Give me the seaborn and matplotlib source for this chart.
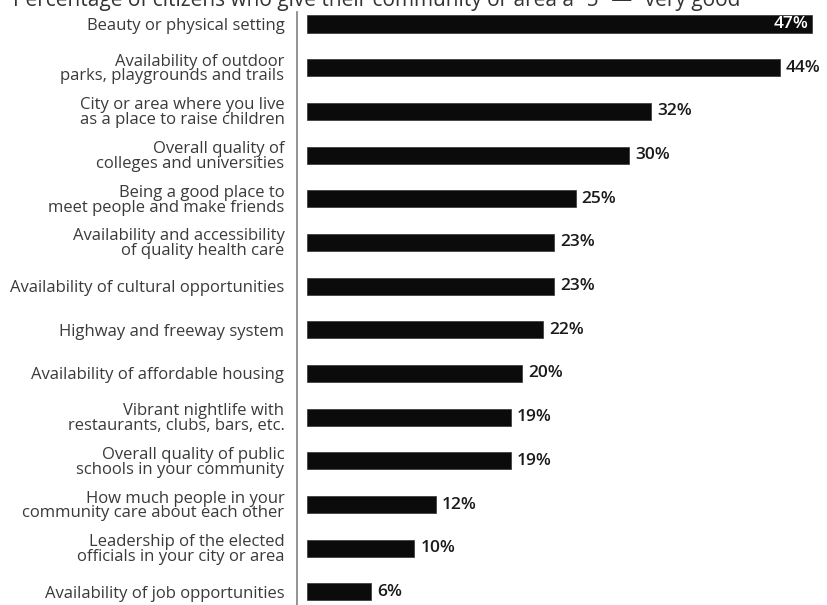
import matplotlib
matplotlib.use("Agg")
import matplotlib.pyplot as plt
import seaborn as sns
import pandas as pd

categories = [
    "Beauty or physical setting",
    "Availability of outdoor\nparks, playgrounds and trails",
    "City or area where you live\nas a place to raise children",
    "Overall quality of\ncolleges and universities",
    "Being a good place to\nmeet people and make friends",
    "Availability and accessibility\nof quality health care",
    "Availability of cultural opportunities",
    "Highway and freeway system",
    "Availability of affordable housing",
    "Vibrant nightlife with\nrestaurants, clubs, bars, etc.",
    "Overall quality of public\nschools in your community",
    "How much people in your\ncommunity care about each other",
    "Leadership of the elected\nofficials in your city or area",
    "Availability of job opportunities",
]
values = [47, 44, 32, 30, 25, 23, 23, 22, 20, 19, 19, 12, 10, 6]
title = "Percentage of citizens who give their community or area a \u201c5\u201d \u2014 \u201cvery good\u201d"

df = pd.DataFrame({"category": categories, "value": values})

sns.set_theme(style="white")
plt.rcParams["font.family"] = ["Open Sans", "DejaVu Sans"]

fig = plt.figure(figsize=(8.28, 6.05), dpi=100)
W, H = 828, 605
ax = fig.add_axes([297 / W, 0, (W - 297) / W, (605 - 12) / H])

sns.barplot(data=df, x="value", y="category", color="#0b0b0b", width=0.39,
            saturation=1, ax=ax, orient="h")
for p in ax.patches:
    p.set_edgecolor("#333333")
    p.set_linewidth(0.5)

ax.set_xlim(-0.93, 48.47)
ax.set_ylim(13.3, -0.275)
ax.set_xlabel("")
ax.set_ylabel("")
ax.set_xticks([])
for s in ["top", "right", "bottom"]:
    ax.spines[s].set_visible(False)
ax.spines["left"].set_color("#8a8a8a")
ax.spines["left"].set_linewidth(1.3)
ax.tick_params(axis="y", length=0, pad=9, labelsize=12.0, labelcolor="#3a3a3a")
for lbl in ax.get_yticklabels():
    lbl.set_linespacing(0.9)

for i, v in enumerate(values):
    if i == 0:
        ax.text(v - 0.3, i, f"{v}%", ha="right", va="center", color="white",
                fontsize=12.5, fontweight="semibold")
    else:
        ax.text(v + 0.55, i, f"{v}%", ha="left", va="center", color="#1a1a1a",
                fontsize=12.5, fontweight="semibold")

fig.text(0.459, 1 - 6 / H, title, ha="center", va="baseline", fontsize=15,
         color="#333333")

fig.savefig("out.png", dpi=100, facecolor="white")
